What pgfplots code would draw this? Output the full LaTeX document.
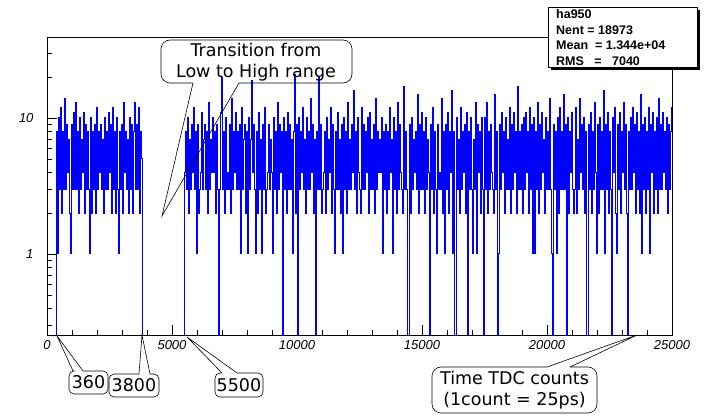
\documentclass[border=0pt]{standalone}
\usepackage{pgfplots}
\pgfplotsset{compat=1.18}
\usepackage{fontspec}
\setmainfont{Liberation Sans}
\newfontfamily\dejavu{DejaVu Sans}
\begin{document}
\begin{tikzpicture}[x=1pt,y=1pt]
\useasboundingbox (0,0) rectangle (704,417);
\begin{axis}[
  at={(47pt,82pt)}, anchor=south west,
  scale only axis, width=625pt, height=298pt,
  xmin=0, xmax=25000, ymode=log, ymin=0.2537, ymax=39.4,
  axis line style={black, line width=0.8pt},
  tick align=inside, xtick pos=bottom, ytick pos=left,
  major tick length=10pt, minor tick length=5pt,
  tick style={black, line width=0.6pt},
  xtick={0,5000,10000,15000,20000,25000},
  xticklabels={0,5000,10000,15000,20000,25000},
  minor x tick num=4,
  ytick={1,10}, yticklabels={1,10},
  minor ytick={0.3,0.4,0.5,0.6,0.7,0.8,0.9,2,3,4,5,6,7,8,9,20,30},
  ticklabel style={font=\fontsize{13}{15}\selectfont\itshape},
  xticklabel style={yshift=-2pt},
  yticklabel style={xshift=-10pt},
  scaled x ticks=false,
]
\addplot[const plot, blue, line width=1pt] table[row sep=\\, x expr=320+40*\coordindex, y=y] {
y\\0.01\\
8\\1\\10\\3\\12\\2\\8\\3\\14\\3\\9\\4\\7\\2\\1\\9\\3\\11\\3\\13\\
3\\8\\2\\10\\3\\7\\4\\11\\2\\9\\3\\8\\3\\1\\10\\2\\8\\3\\9\\2\\
12\\3\\8\\4\\9\\3\\7\\2\\10\\3\\8\\3\\11\\4\\9\\2\\12\\3\\8\\2\\
10\\3\\1\\8\\3\\9\\2\\13\\4\\8\\3\\7\\2\\10\\3\\9\\2\\8\\13\\3\\
9\\3\\12\\2\\8\\5\\
0.01\\
};
\addplot[const plot, blue, line width=1pt] table[row sep=\\, x expr=5460+40*\coordindex, y=y] {
y\\0.01\\
4\\8\\3\\10\\2\\7\\3\\9\\4\\12\\3\\8\\1\\9\\2\\3\\4\\11\\3\\7\\
9\\3\\8\\2\\13\\3\\7\\4\\10\\4\\8\\2\\9\\3\\0.01\\3\\11\\20\\3\\8\\
2\\10\\3\\4\\3\\9\\2\\14\\3\\8\\4\\11\\3\\8\\3\\9\\1\\12\\3\\7\\
9\\2\\8\\1\\10\\3\\7\\19\\4\\9\\3\\1\\8\\2\\11\\3\\7\\1\\9\\3\\
12\\2\\3\\4\\9\\3\\7\\4\\1\\10\\3\\8\\2\\13\\3\\9\\4\\8\\0.01\\10\\
3\\8\\2\\11\\3\\9\\3\\7\\1\\8\\21\\2\\9\\0.01\\10\\3\\8\\4\\12\\3\\
7\\2\\10\\3\\8\\3\\14\\4\\9\\2\\7\\0.01\\8\\3\\20\\3\\9\\2\\3\\4\\
8\\2\\10\\3\\7\\4\\12\\2\\9\\3\\1\\8\\3\\11\\3\\7\\2\\9\\1\\10\\
3\\8\\2\\13\\3\\7\\3\\9\\4\\16\\3\\8\\2\\10\\4\\3\\2\\12\\3\\9\\
3\\8\\4\\10\\2\\11\\3\\7\\3\\9\\2\\14\\3\\8\\4\\7\\4\\10\\1\\8\\
3\\9\\2\\8\\3\\12\\4\\7\\1\\10\\3\\8\\2\\13\\3\\9\\4\\3\\2\\17\\
3\\8\\3\\0.01\\0.01\\9\\2\\10\\3\\7\\4\\8\\3\\15\\2\\9\\3\\11\\3\\8\\
2\\10\\3\\7\\4\\0.01\\9\\3\\12\\2\\8\\3\\1\\9\\3\\4\\3\\14\\2\\8\\
1\\9\\3\\11\\2\\8\\4\\16\\1\\8\\0.01\\0.01\\10\\3\\7\\2\\12\\3\\8\\4\\
9\\2\\11\\0.01\\8\\3\\10\\3\\1\\7\\3\\13\\1\\9\\4\\8\\2\\10\\3\\0.01\\
10\\3\\13\\2\\8\\3\\9\\4\\3\\2\\15\\3\\8\\0.01\\1\\9\\3\\11\\4\\8\\
2\\10\\3\\7\\3\\12\\2\\9\\3\\11\\4\\8\\2\\17\\3\\8\\3\\9\\2\\10\\
3\\11\\4\\8\\2\\12\\3\\9\\1\\10\\1\\8\\3\\13\\2\\9\\3\\11\\4\\7\\
2\\10\\3\\8\\3\\14\\3\\1\\0.01\\9\\3\\8\\1\\10\\2\\12\\3\\8\\3\\15\\
3\\9\\0.01\\10\\2\\8\\4\\11\\3\\2\\3\\12\\2\\7\\3\\14\\4\\9\\3\\10\\
2\\8\\0.01\\0.01\\9\\3\\11\\2\\8\\3\\13\\4\\1\\9\\2\\10\\3\\8\\3\\16\\
1\\9\\3\\11\\2\\8\\3\\0.01\\10\\4\\12\\2\\1\\9\\3\\11\\2\\8\\4\\13\\
3\\9\\2\\0.01\\8\\3\\10\\3\\12\\4\\9\\2\\11\\3\\8\\2\\15\\1\\9\\3\\
10\\2\\8\\3\\12\\1\\9\\4\\11\\2\\8\\3\\10\\2\\14\\3\\9\\3\\11\\4\\
8\\3\\10\\2\\9\\3\\8\\12\\
0.01\\
};
\end{axis}
% stats box
\fill[black] (551,347) rectangle (700,407);
\filldraw[fill=white, draw=black, line width=0.8pt] (548,350) rectangle (697,410);
\begin{scope}[every node/.style={anchor=base west, inner sep=0pt, font=\fontsize{12.5}{14}\selectfont\bfseries}]
\node at (556,398) {ha950};
\node at (556,382.5) {Nent = 18973};
\node at (556,367) {Mean\ \ = 1.344e+04};
\node at (556,351.5) {RMS\ \ \ =\ \ \ 7040};
\end{scope}
% callouts
\begin{scope}[line width=0.6pt, black]
% Transition
\draw[rounded corners=9pt] (193,334) -- (161,334) -- (161,377) -- (352,377) -- (352,334) -- (239,334);
\draw (193,334) -- (162,201) -- (239,334);
\node[align=center, font=\dejavu\fontsize{17.5}{21}\selectfont] at (256,355) {Transition from\\Low to High range};
% 360
\draw[rounded corners=5pt] (83,46) -- (108,46) -- (108,23) -- (69,23) -- (69,46) -- (73,46);
\draw (73,46) -- (57,81) -- (83,46);
\node[font=\dejavu\fontsize{17.5}{21}\selectfont] at (88.5,34.5) {360};
% 3800
\draw[rounded corners=5pt] (150,43) -- (159,43) -- (159,20) -- (109,20) -- (109,43) -- (139,43);
\draw (139,43) -- (142,82) -- (150,43);
\node[font=\dejavu\fontsize{17.5}{21}\selectfont] at (134,31.5) {3800};
% 5500
\draw[rounded corners=5pt] (237,44) -- (263,44) -- (263,20) -- (215,20) -- (215,44) -- (222,44);
\draw (222,44) -- (187,80) -- (237,44);
\node[font=\dejavu\fontsize{17.5}{21}\selectfont] at (239,32) {5500};
% Time
\draw[rounded corners=9pt] (570,50) -- (597,50) -- (597,4) -- (432,4) -- (432,50) -- (547,50);
\draw (547,50) -- (637,82) -- (570,50);
\node[align=center, font=\dejavu\fontsize{17.5}{21}\selectfont] at (514.5,27) {Time TDC counts\\(1count = 25ps)};
\end{scope}
\end{tikzpicture}
\end{document}
